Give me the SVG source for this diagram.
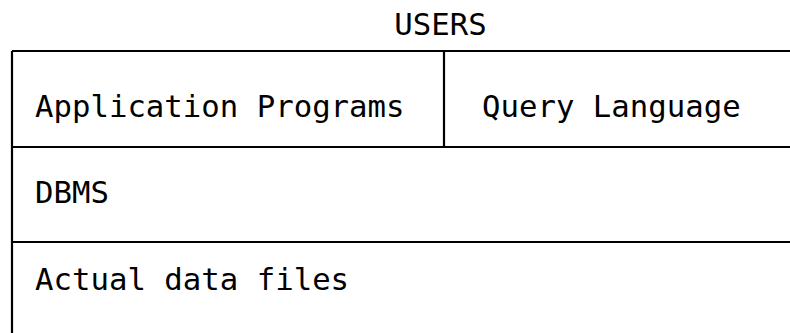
<svg xmlns="http://www.w3.org/2000/svg" width="790" height="333" viewBox="0 0 790 333">
<style>
text{font-family:"DejaVu Sans Mono","Liberation Mono",monospace;font-size:30.7px;fill:#000}
.ln{stroke:#000;stroke-width:2.2;fill:none}
</style>
<rect width="790" height="333" fill="#fff"/>
<g id="connectors">
<path class="ln" d="M12 51H792M12 147H792M12 242H792M12 51V335M444 51V147"/>
</g>
<g id="users"><text x="440.5" y="35" text-anchor="middle">USERS</text></g>
<g id="app"><text x="35" y="117">Application Programs</text></g>
<g id="query"><text x="482" y="117">Query Language</text></g>
<g id="dbms"><text x="35" y="203">DBMS</text></g>
<g id="data"><text x="35" y="290">Actual data files</text></g>
</svg>
